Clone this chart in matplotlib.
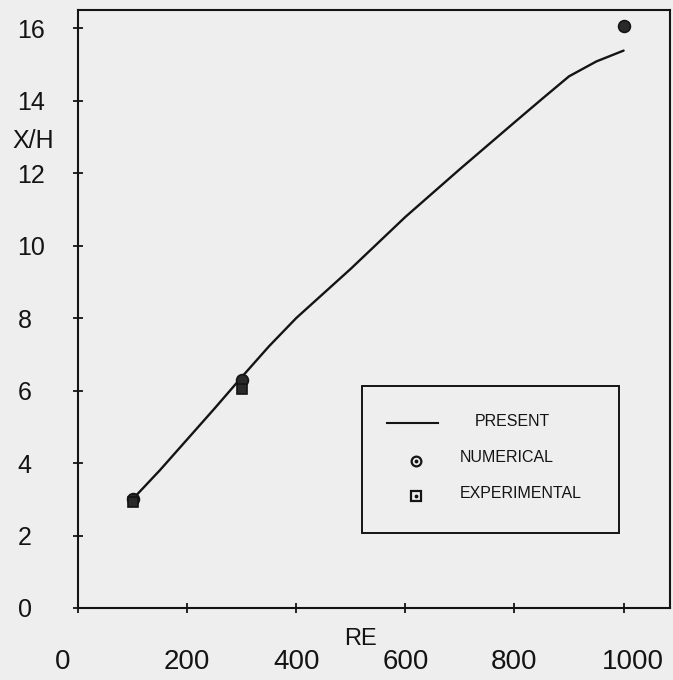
import matplotlib
matplotlib.use("Agg")
import matplotlib.pyplot as plt
from matplotlib.transforms import ScaledTranslation
from matplotlib.patches import Rectangle
from matplotlib.lines import Line2D

plt.rcParams['font.family'] = ['Liberation Sans', 'DejaVu Sans']

# Reattachment length X/H against Reynolds number
re_present = [100, 150, 200, 250, 300, 350, 400, 500, 600, 700, 800, 850, 900, 950, 1000]
xh_present = [3.0, 3.8, 4.65, 5.5, 6.37, 7.22, 8.0, 9.36, 10.79, 12.11, 13.40, 14.04, 14.67, 15.08, 15.38]

re_numerical = [100, 300, 1000]
xh_numerical = [3.0, 6.3, 16.05]

re_experimental = [100, 300]
xh_experimental = [2.92, 6.03]

x_ticks = [0, 200, 400, 600, 800, 1000]
y_ticks = [0, 2, 4, 6, 8, 10, 12, 14, 16]

paper = '#eeeeee'
ink = '#141414'

fig = plt.figure(figsize=(6.73, 6.80), dpi=100, facecolor=paper)
ax = fig.add_axes([0.1159, 0.1059, 0.8796, 0.8794], facecolor=paper)

ax.plot(re_present, xh_present, color=ink, lw=1.7, solid_capstyle='round')
ax.plot(re_numerical, xh_numerical, 'o', ms=8.5, mfc='#2a2a2a', mec=ink, mew=1.2)
ax.plot(re_experimental, xh_experimental, 's', ms=7.5, mfc='#2a2a2a', mec=ink, mew=1.2)

ax.set_xlim(0, 1085)
ax.set_ylim(0, 16.5)
ax.set_xticks(x_ticks)
ax.set_yticks(y_ticks)
ax.set_xticklabels([str(v) for v in x_ticks], fontsize=20, color=ink)
ax.set_yticklabels([str(v) for v in y_ticks], fontsize=18, color=ink)

for side in ['left', 'bottom', 'top', 'right']:
    ax.spines[side].set_linewidth(1.5)
    ax.spines[side].set_color(ink)

ax.tick_params(axis='both', direction='inout', length=7, width=1.3, color=ink)
ax.tick_params(axis='y', pad=40)
ax.tick_params(axis='x', pad=26)
for lab in ax.get_yticklabels():
    lab.set_horizontalalignment('left')

# the origin label sits left of the corner, the last one a little right
xlabels = ax.get_xticklabels()
xlabels[0].set_transform(xlabels[0].get_transform() + ScaledTranslation(-15 / 100, 0, fig.dpi_scale_trans))
xlabels[-1].set_transform(xlabels[-1].get_transform() + ScaledTranslation(9 / 100, 0, fig.dpi_scale_trans))

# axis titles
fig.text(33 / 673, 1 - 141 / 680, 'X/H', fontsize=18, color=ink, ha='center', va='center')
fig.text(361 / 673, 1 - 639 / 680, 'RE', fontsize=17, color=ink, ha='center', va='center')

# key box drawn in pixel coordinates on an overlay
ov = fig.add_axes([0, 0, 1, 1], facecolor='none')
ov.set_xlim(0, 673)
ov.set_ylim(680, 0)
ov.axis('off')
ov.add_patch(Rectangle((362, 386), 257, 147, fill=False, ec=ink, lw=1.4))
ov.add_line(Line2D([387, 438], [423, 423], color=ink, lw=1.5))
ov.text(475, 422, 'PRESENT', fontsize=11.5, color=ink, ha='left', va='center')
ov.plot([416], [461], 'o', ms=7, mfc='none', mec=ink, mew=1.6)
ov.plot([416], [461], '.', ms=3.5, color=ink)
ov.text(460, 458, 'NUMERICAL', fontsize=11.5, color=ink, ha='left', va='center')
ov.plot([416], [496], 's', ms=6.5, mfc='none', mec=ink, mew=1.6)
ov.plot([416], [496], '.', ms=3.5, color=ink)
ov.text(460, 493, 'EXPERIMENTAL', fontsize=11.5, color=ink, ha='left', va='center')

fig.savefig('out.png', dpi=100, facecolor=paper)
